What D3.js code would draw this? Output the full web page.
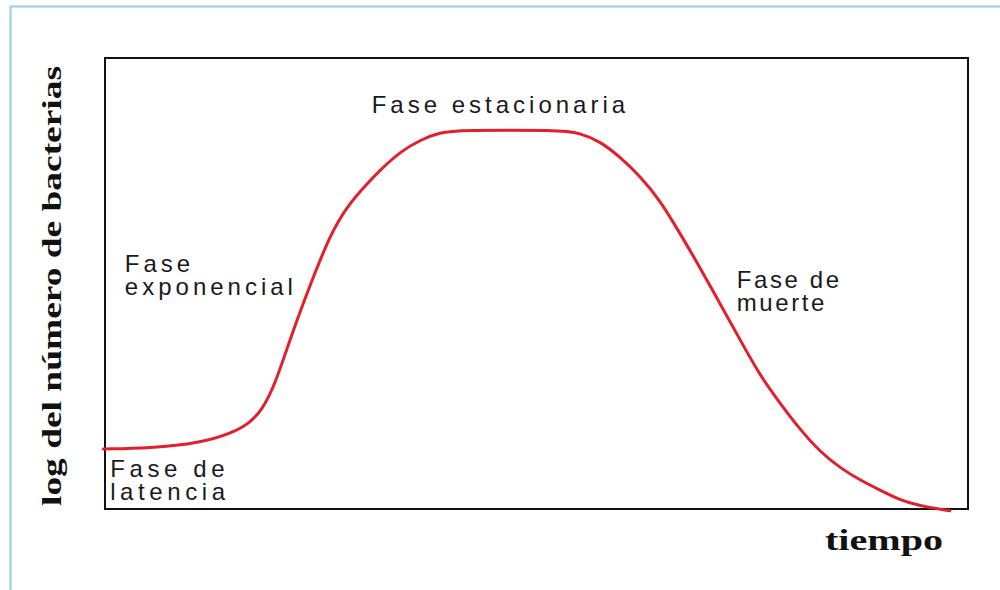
<!DOCTYPE html>
<html>
<head>
<meta charset="utf-8">
<script src="https://cdn.jsdelivr.net/npm/d3@7"></script>
<style>
  body { margin: 0; background: #fff; }
  .phase { font-family: "Liberation Sans", Arial, sans-serif; font-size: 24px; fill: #1a1a1a; }
  .axis-title { font-family: "Liberation Serif", "Times New Roman", serif; font-weight: bold; fill: #111; }
</style>
</head>
<body>
<div class="chart"></div>
<script>
// growth curve (time and log count in arbitrary units 0..100)
var tiempo = [-0.2, 5.2, 11.0, 14.8, 16.8, 18.2, 19.7, 21.8, 24.0, 26.1, 28.0, 30.4, 31.9, 34.2, 36.5, 38.8, 41.1,
    52.7, 55.0, 57.4, 59.7, 62.0, 64.3, 66.6, 68.9, 71.3, 73.6, 75.9, 78.2, 80.5, 82.9, 85.2, 87.5, 89.8, 92.1, 94.4, 97.9];
var logBacterias = [13.3, 13.5, 14.6, 16.9, 19.1, 22.0, 27.5, 39.7, 50.8, 60.8, 67.0, 72.2, 75.2, 79.2, 81.8, 83.5, 84.0,
    84.0, 83.4, 81.5, 78.0, 73.8, 68.5, 61.2, 53.7, 45.4, 37.5, 29.6, 23.5, 17.7, 12.6, 9.1, 6.4, 4.2, 2.0, 0.7, -0.4];

// phase labels, anchored in data units
var phaseLines = [["Fase estacionaria"], ["Fase", "exponencial"], ["Fase de", "latencia"], ["Fase de", "muerte"]];
var phaseT = [30.9, 2.3, 0.6, 73.2];
var phaseV = [87.8, 52.5, 7.1, 49.0];

var xTitle = "tiempo";
var yTitle = "log del número de bacterias";

var config = {};
config.svg = { width: 1000, height: 590 };
config.plot = { left: 105, top: 58, right: 968, bottom: 509 };
// letter spacing of each phase label, the picture spreads its glyphs
config.phaseSpacing = [4, 4, 4.6, 2.6];
config.lineHeight = 23;

var translate = (x, y) => "translate(" + x + "," + y + ")";

var svg = d3.select(".chart")
    .append("svg")
    .attr("width", config.svg.width)
    .attr("height", config.svg.height);

// light blue frame round the picture
svg.append("rect")
    .attr("x", 10.5)
    .attr("y", 6.5)
    .attr("width", 1010)
    .attr("height", 600)
    .attr("fill", "none")
    .attr("stroke", "#94cfdf")
    .attr("stroke-width", 2);

var xScale = d3.scaleLinear()
    .domain([0, 100])
    .range([config.plot.left, config.plot.right]);

var yScale = d3.scaleLinear()
    .domain([0, 100])
    .range([config.plot.bottom, config.plot.top]);

// plot box
svg.append("rect")
    .attr("x", xScale(0))
    .attr("y", yScale(100))
    .attr("width", xScale(100) - xScale(0))
    .attr("height", yScale(0) - yScale(100))
    .attr("fill", "none")
    .attr("stroke", "#111")
    .attr("stroke-width", 2);

var rows = tiempo.map((t, i) => ({ t: t, v: logBacterias[i] }));

var line = d3.line()
    .x(d => xScale(d.t))
    .y(d => yScale(d.v))
    .curve(d3.curveBasis);

svg.append("path")
    .datum(rows)
    .attr("d", line)
    .attr("fill", "none")
    .attr("stroke", "#e31f2b")
    .attr("stroke-width", 3)
    .attr("stroke-linecap", "round");

// phase labels
phaseLines.forEach((lines, i) => {
    var label = svg.append("text")
        .attr("class", "phase")
        .attr("x", xScale(phaseT[i]))
        .attr("y", yScale(phaseV[i]))
        .style("letter-spacing", config.phaseSpacing[i] + "px");
    lines.forEach((s, j) => {
        label.append("tspan")
            .attr("x", xScale(phaseT[i]))
            .attr("dy", j === 0 ? 0 : config.lineHeight)
            .text(s);
    });
});

// axis titles
svg.append("text")
    .attr("class", "axis-title")
    .attr("x", 825)
    .attr("y", 550)
    .attr("font-size", "30px")
    .attr("textLength", 118)
    .attr("lengthAdjust", "spacingAndGlyphs")
    .text(xTitle);

var yGroup = svg.append("g")
    .attr("transform", translate(61, 506));
yGroup.append("text")
    .attr("class", "axis-title")
    .attr("x", 0)
    .attr("y", 0)
    .attr("font-size", "28px")
    .attr("textLength", 440)
    .attr("lengthAdjust", "spacingAndGlyphs")
    .attr("transform", "rotate(-90)")
    .text(yTitle);
</script>
</body>
</html>
